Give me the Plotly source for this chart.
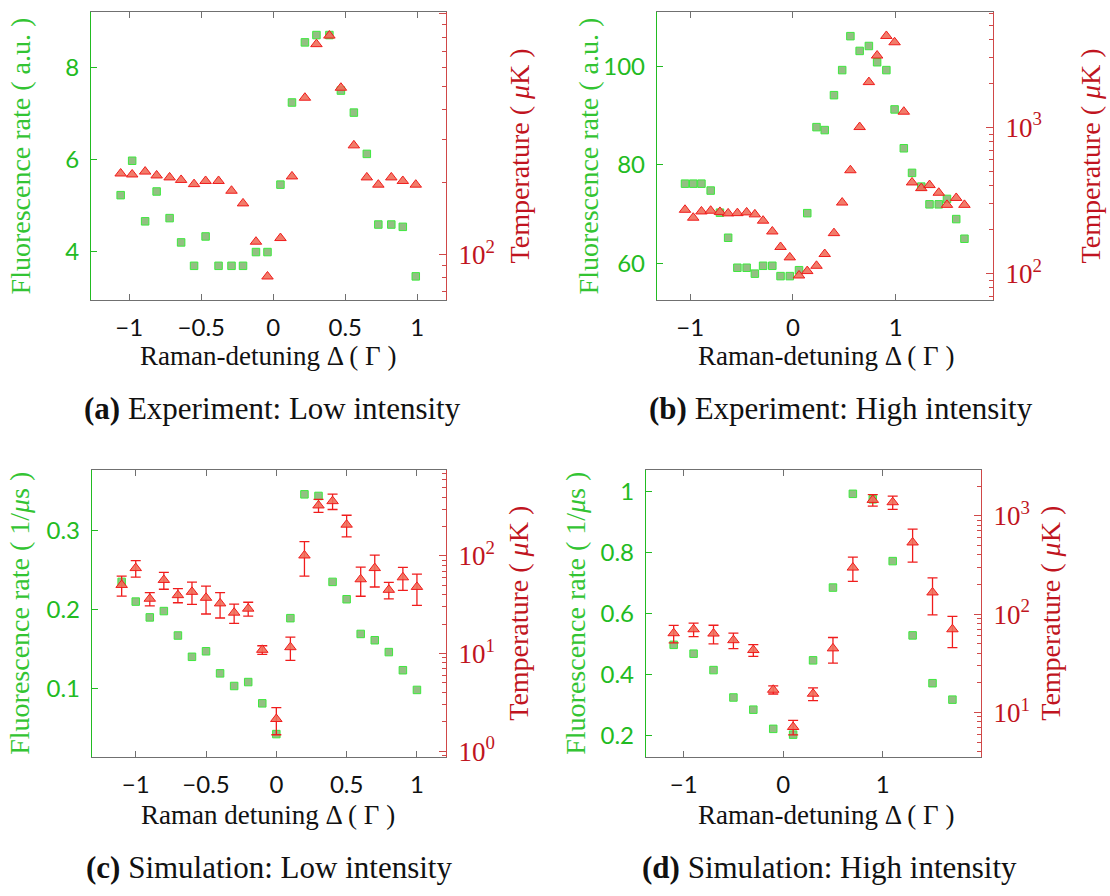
import plotly.graph_objects as go

# ---------------- data ----------------
# (a) Experiment: low intensity
a_detuning = [-1.06, -0.98, -0.89, -0.81, -0.72, -0.64, -0.55, -0.47, -0.38, -0.29,
              -0.21, -0.12, -0.04, 0.05, 0.13, 0.22, 0.30, 0.39, 0.47, 0.56,
              0.65, 0.73, 0.82, 0.90, 0.99]
a_fluorescence = [5.22, 5.97, 4.65, 5.30, 4.72, 4.19, 3.68, 4.32, 3.68, 3.68,
                  3.68, 3.98, 3.98, 5.45, 7.24, 8.55, 8.71, 8.71, 7.50, 7.02,
                  6.12, 4.58, 4.58, 4.53, 3.45]
a_temperature = [217, 215, 221, 213, 209, 204, 196, 202, 202, 184,
                 163, 113, 81, 117, 211, 448, 748, 812, 493, 284,
                 209, 195, 209, 202, 195]

# (b) Experiment: high intensity
b_detuning = [-1.05, -0.97, -0.89, -0.80, -0.71, -0.63, -0.54, -0.45, -0.37, -0.29,
              -0.20, -0.12, -0.03, 0.06, 0.14, 0.23, 0.31, 0.40, 0.48, 0.56,
              0.65, 0.74, 0.82, 0.91, 0.99, 1.08, 1.16, 1.25, 1.33, 1.42,
              1.50, 1.59, 1.67]
b_fluorescence = [76.2, 76.2, 76.2, 74.8, 70.3, 65.2, 59.1, 59.1, 57.9, 59.5,
                  59.5, 57.4, 57.4, 58.6, 70.2, 87.7, 87.1, 94.2, 99.3, 106.2,
                  103.2, 104.2, 100.9, 99.3, 91.3, 83.4, 78.4, 75.6, 72.0, 72.0,
                  73.1, 69.0, 65.0]
b_temperature = [273, 241, 266, 269, 264, 258, 259, 262, 254, 230,
                 194, 152, 129, 97, 104, 113, 136, 189, 306, 509,
                 1005, 2040, 3100, 4220, 3820, 1280, 420, 384, 403, 357,
                 295, 329, 295]

# (c) Simulation: low intensity
c_detuning = [-1.1, -1.0, -0.9, -0.8, -0.7, -0.6, -0.5, -0.4, -0.3, -0.2, -0.1,
              0.0, 0.1, 0.2, 0.3, 0.4, 0.5, 0.6, 0.7, 0.8, 0.9, 1.0]
c_fluorescence = [0.235, 0.210, 0.190, 0.198, 0.167, 0.140, 0.147, 0.119, 0.103, 0.108, 0.081,
                  0.042, 0.189, 0.346, 0.344, 0.235, 0.213, 0.169, 0.161, 0.146, 0.123, 0.098]
c_temperature = [50.4, 75.0, 36.4, 56.7, 39.6, 42.8, 37.2, 32.6, 26.2, 28.8, 10.9,
                 2.13, 11.6, 101, 329, 364, 209, 57.6, 75.0, 44.9, 60.3, 48.1]
c_temperature_err = [11.7, 14.3, 5.6, 11.2, 6.5, 11.0, 11.8, 9.5, 5.9, 4.7, 1.1,
                     0.66, 3.1, 39, 50, 65, 52, 19, 27, 8.7, 16, 17]

# (d) Simulation: high intensity
d_detuning = [-1.1, -0.9, -0.7, -0.5, -0.3, -0.1, 0.1, 0.3, 0.5, 0.7, 0.9, 1.1, 1.3, 1.5, 1.7]
d_fluorescence = [0.498, 0.469, 0.415, 0.325, 0.285, 0.222, 0.203, 0.447, 0.686, 0.994,
                  0.976, 0.773, 0.529, 0.372, 0.318]
d_temperature = [63.9, 70.1, 63.4, 54.3, 43.1, 17.0, 7.11, 15.5, 44.8, 297,
                 1449, 1373, 535, 166, 70.1]
d_temperature_err = [13, 11, 13.6, 9.8, 5.9, 1.6, 1.2, 2.3, 13, 82,
                     195, 213, 197, 68, 24.5]

# tick positions
x_ticks_fine = [-1, -0.5, 0, 0.5, 1]
x_ticks_coarse = [-1, 0, 1]
a_fluor_ticks = [4, 6, 8]
b_fluor_ticks = [60, 80, 100]
c_fluor_ticks = [0.1, 0.2, 0.3]
d_fluor_ticks = [0.2, 0.4, 0.6, 0.8, 1]
c_fluor_labels = ["0.1", "0.2", "0.3"]
d_fluor_labels = ["0.2", "0.4", "0.6", "0.8", "1"]
temp_decades = [1, 10, 100, 1000]
temp_decade_labels = ["10<sup>0</sup>", "10<sup>1</sup>", "10<sup>2</sup>", "10<sup>3</sup>"]

# ---------------- style ----------------
W, H = 1110, 896
GREEN = "#22bb22"
GREEN_TITLE = "#33c433"
RED = "#c01420"
RED_AXIS = "#d04848"
GREY = "#707070"
SANS = "Lato, 'Liberation Sans', sans-serif"
SERIF = "'Liberation Serif', 'DejaVu Serif', serif"

SQ_FILL = "rgba(120,175,100,0.8)"
SQ_EDGE = "#3ee83e"
TRI_FILL = "rgba(240,110,90,0.9)"
TRI_EDGE = "#f01c1c"

minor_log = [k * 10 ** d for d in range(-1, 4) for k in range(2, 10)]


def px_x(p):
    return p / W


def px_y(p):
    return 1 - p / H


fig = go.Figure()

panels = [
    dict(n=1, x=a_detuning, f=a_fluorescence, t=a_temperature, err=None,
         dom=(91, 446, 12, 303), xr=[-1.266, 1.2], yr=[2.936, 9.215], tr=[1.811, 3.008],
         xt=x_ticks_fine, yt=a_fluor_ticks, ytt=None),
    dict(n=2, x=b_detuning, f=b_fluorescence, t=b_temperature, err=None,
         dom=(657, 993, 12, 303), xr=[-1.3225, 1.948], yr=[52.55, 111.14], tr=[1.8194, 3.790],
         xt=x_ticks_coarse, yt=b_fluor_ticks, ytt=None),
    dict(n=3, x=c_detuning, f=c_fluorescence, t=c_temperature, err=c_temperature_err,
         dom=(92, 446, 475, 765), xr=[-1.311, 1.2067], yr=[0.01255, 0.3766], tr=[-0.0642, 2.878],
         xt=x_ticks_fine, yt=c_fluor_ticks, ytt=c_fluor_labels),
    dict(n=4, x=d_detuning, f=d_fluorescence, t=d_temperature, err=d_temperature_err,
         dom=(646, 981, 475, 765), xr=[-1.378, 1.987], yr=[0.1285, 1.0715], tr=[0.5436, 3.463],
         xt=x_ticks_coarse, yt=d_fluor_ticks, ytt=d_fluor_labels),
]

layout_axes = {}
for p in panels:
    n = p["n"]
    xa = f"x{n}" if n > 1 else "x"
    ya_left = f"y{2 * n - 1}" if 2 * n - 1 > 1 else "y"
    ya_right = f"y{2 * n}"
    x0, x1, y0, y1 = p["dom"]

    fig.add_trace(go.Scatter(
        x=p["x"], y=p["f"], mode="markers", xaxis=xa, yaxis=ya_left,
        marker=dict(symbol="square", size=7.5, color=SQ_FILL, line=dict(color=SQ_EDGE, width=1)),
        showlegend=False))
    err = None
    if p["err"] is not None:
        err = dict(type="data", array=p["err"], symmetric=True, color=TRI_EDGE,
                   thickness=1.3, width=5)
    fig.add_trace(go.Scatter(
        x=p["x"], y=p["t"], mode="markers", xaxis=xa, yaxis=ya_right, error_y=err,
        marker=dict(symbol="triangle-up", size=10, color=TRI_FILL,
                    line=dict(color=TRI_EDGE, width=1)),
        showlegend=False))

    xkey = "xaxis" if n == 1 else f"xaxis{n}"
    ylkey = "yaxis" if 2 * n - 1 == 1 else f"yaxis{2 * n - 1}"
    yrkey = f"yaxis{2 * n}"

    layout_axes[xkey] = dict(
        domain=[px_x(x0), px_x(x1)], anchor=ya_left, range=p["xr"],
        tickmode="array", tickvals=p["xt"], ticks="inside", ticklen=6, tickwidth=1,
        tickcolor=GREY, showline=True, linecolor=GREY, linewidth=1.3, mirror="ticks",
        showgrid=False, zeroline=False, ticklabelstandoff=6,
        tickfont=dict(family=SANS, size=24, color="#111111"))
    yl = dict(
        domain=[px_y(y1), px_y(y0)], anchor=xa, range=p["yr"],
        tickmode="array", tickvals=p["yt"], ticks="inside", ticklen=6, tickwidth=1,
        tickcolor=GREEN, showline=True, linecolor=GREEN, linewidth=1.3,
        showgrid=False, zeroline=False, ticklabelstandoff=6,
        tickfont=dict(family=SANS, size=24, color=GREEN))
    if p["ytt"] is not None:
        yl["ticktext"] = p["ytt"]
    layout_axes[ylkey] = yl
    layout_axes[yrkey] = dict(
        overlaying=ya_left, side="right", anchor=xa, type="log", range=p["tr"],
        tickmode="array", tickvals=temp_decades, ticktext=temp_decade_labels,
        ticks="inside", ticklen=7, tickwidth=1, tickcolor=RED_AXIS,
        minor=dict(tickmode="array", tickvals=minor_log, ticks="inside", ticklen=4,
                   tickwidth=1, tickcolor=RED_AXIS, showgrid=False),
        showline=True, linecolor=RED_AXIS, linewidth=1.3,
        showgrid=False, zeroline=False, ticklabelstandoff=6,
        tickfont=dict(family=SERIF, size=27, color=RED))

# axis titles and sub-figure captions
annotations = []


def note(text, x, y, size, color="#111111", angle=0, family=SERIF):
    annotations.append(dict(
        text=text, x=px_x(x), y=px_y(y), xref="paper", yref="paper",
        showarrow=False, textangle=angle, xanchor="center", yanchor="middle",
        font=dict(family=family, size=size, color=color)))


note("Fluorescence rate ( a.u. )", 20, 158, 28, GREEN_TITLE, -90)
note("Temperature ( <i>μ</i>K )", 519, 158, 28, RED, -90)
note("Fluorescence rate ( a.u. )", 588, 158, 28, GREEN_TITLE, -90)
note("Temperature ( <i>μ</i>K )", 1090, 158, 28, RED, -90)
note("Fluorescence rate ( 1/<i>μ</i>s )", 20, 620, 28, GREEN_TITLE, -90)
note("Temperature ( <i>μ</i>K )", 519, 620, 28, RED, -90)
note("Fluorescence rate ( 1/<i>μ</i>s )", 576, 620, 28, GREEN_TITLE, -90)
note("Temperature ( <i>μ</i>K )", 1051, 620, 28, RED, -90)

note("Raman-detuning Δ ( Γ )", 268, 360, 27)
note("Raman-detuning Δ ( Γ )", 826, 360, 27)
note("Raman detuning Δ ( Γ )", 268, 823, 27)
note("Raman-detuning Δ ( Γ )", 826, 823, 27)

note("<b>(a)</b> Experiment: Low intensity", 272, 413, 31)
note("<b>(b)</b> Experiment: High intensity", 841, 413, 31)
note("<b>(c)</b> Simulation: Low intensity", 269, 876, 31)
note("<b>(d)</b> Simulation: High intensity", 829, 876, 31)

fig.update_layout(
    width=W, height=H, margin=dict(l=0, r=0, t=0, b=0),
    paper_bgcolor="white", plot_bgcolor="white",
    showlegend=False, annotations=annotations, **layout_axes)

fig.write_html("out.html")
